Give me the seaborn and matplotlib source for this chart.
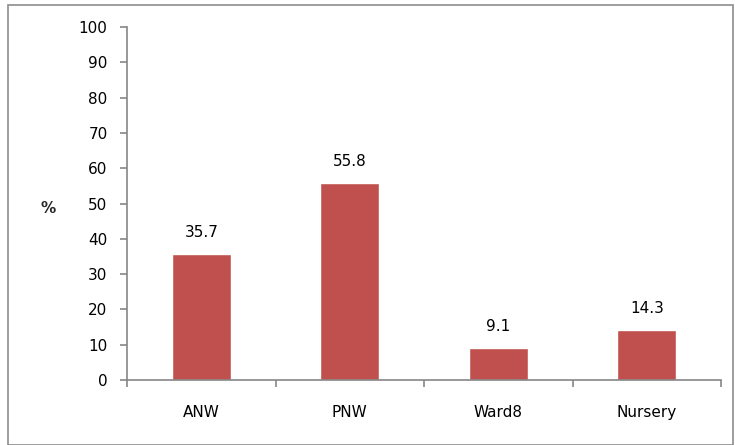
import matplotlib
matplotlib.use("Agg")
import matplotlib.pyplot as plt
import seaborn as sns
import pandas as pd
from matplotlib.patches import Rectangle

categories = ["ANW", "PNW", "Ward8", "Nursery"]
values = [35.7, 55.8, 9.1, 14.3]
yticks = [0, 10, 20, 30, 40, 50, 60, 70, 80, 90, 100]

sns.set_theme(style="white")
plt.rcParams['font.family'] = ['DejaVu Sans']

W, H = 735, 445
fig = plt.figure(figsize=(W / 100, H / 100), dpi=100)
ax = fig.add_axes([127 / W, 1 - 380 / H, (721 - 127) / W, (380 - 27) / H])

df = pd.DataFrame({"cat": categories, "val": values})
sns.barplot(data=df, x="cat", y="val", color="#C0504D", saturation=1, width=0.4, ax=ax)

ax.set_ylim(0, 100)
ax.set_xlim(-0.5, 3.5)
ax.set_yticks(yticks)
ax.set_xlabel("")
ax.set_ylabel("")

spine_c = "#868686"
for s in ["top", "right"]:
    ax.spines[s].set_visible(False)
for s in ["left", "bottom"]:
    ax.spines[s].set_color(spine_c)
    ax.spines[s].set_linewidth(1.2)

ax.tick_params(axis="y", which="major", direction="out", length=5, width=1.2, color=spine_c,
               labelsize=11, labelcolor="#000000", left=True, pad=9)
ax.tick_params(axis="x", which="major", length=0, labelsize=11, labelcolor="#000000", pad=18)
ax.set_xticks([-0.5, 0.5, 1.5, 2.5, 3.5], minor=True)
ax.tick_params(axis="x", which="minor", direction="out", length=5, width=1.2, color=spine_c, bottom=True)

for c in ax.containers:
    ax.bar_label(c, labels=[f"{v:.1f}" for v in values], padding=10, fontsize=11, color="#000000")

fig.text(48 / W, 1 - 208 / H, "%", ha="center", va="center", fontsize=11, fontweight="bold")

fig.patches.append(Rectangle((8 / W, 0), (733 - 8) / W, 1 - 5 / H, transform=fig.transFigure,
                             fill=False, edgecolor="#8c8c8c", linewidth=1.2))

fig.savefig("out.png", dpi=100)
